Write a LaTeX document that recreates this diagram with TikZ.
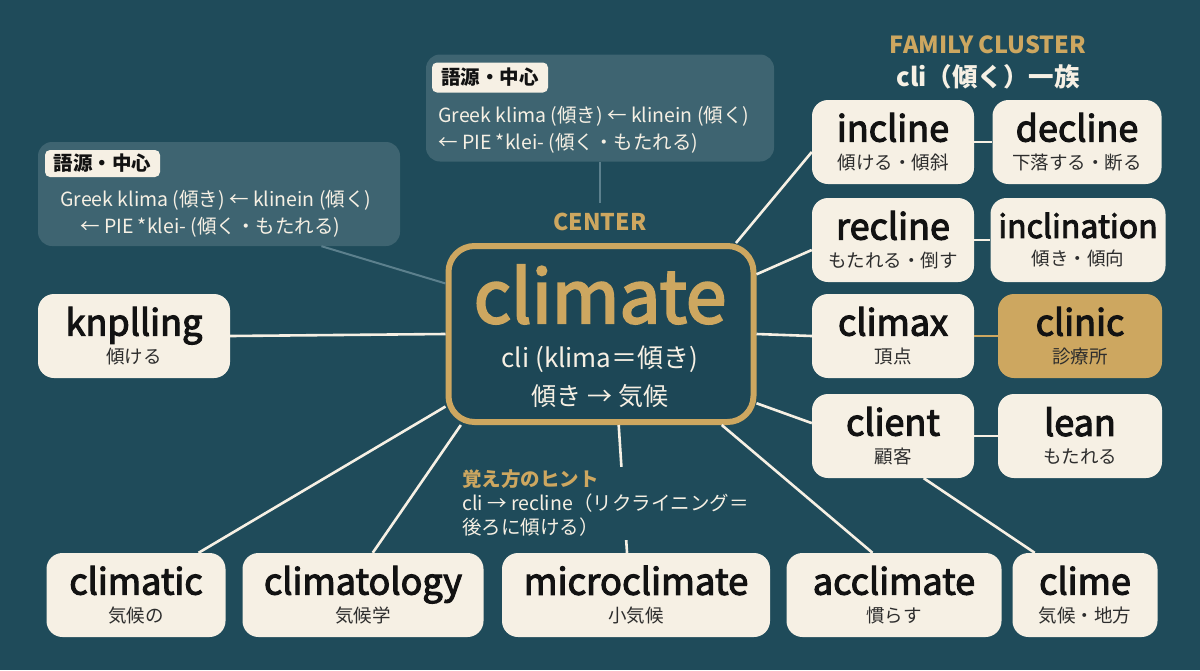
\documentclass[tikz,border=0pt]{standalone}
\usepackage{fontspec}
\setmainfont{Noto Sans CJK JP}
\newfontfamily\medfont{Noto Sans CJK JP}[FakeBold=3]
\usetikzlibrary{positioning}

\definecolor{bgteal}{RGB}{31,75,90}
\definecolor{boxteal}{RGB}{29,71,86}
\definecolor{panel}{RGB}{62,100,113}
\definecolor{faint}{RGB}{92,128,141}
\definecolor{cream}{RGB}{246,240,228}
\definecolor{gold}{RGB}{205,167,96}
\definecolor{ink}{RGB}{18,18,18}
\definecolor{subink}{RGB}{45,45,45}

\newcommand\wordlabel[3][36]{{\medfont\fontsize{#1}{36}\selectfont #2}\\{\color{subink}#3}}

\tikzset{
  wordbox/.style={fill=cream, text=ink, rounded corners=16pt, minimum height=84pt,
    inner sep=0pt, align=center, font=\fontsize{18.5}{28}\selectfont},
  goldbox/.style={wordbox, fill=gold},
  link/.style={draw=cream, line width=2.6pt},
  goldlink/.style={draw=gold, line width=2.6pt},
  faintlink/.style={draw=faint, line width=2pt},
  note/.style={fill=panel, rounded corners=14pt, inner sep=0pt},
  notetag/.style={fill=cream, text=ink, rounded corners=5pt, inner sep=0pt,
    font=\bfseries\fontsize{19.5}{22}\selectfont},
  notetext/.style={text=cream, inner sep=0pt, align=left, font=\fontsize{19.5}{27}\selectfont},
  heading/.style={text=gold, inner sep=0pt, font=\bfseries\fontsize{23}{26}\selectfont}
}

\begin{document}
\begin{tikzpicture}[x=1pt,y=-1pt]
  \useasboundingbox (0,0) rectangle (1200,670);
  \fill[bgteal] (0,0) rectangle (1200,670);

  % etymology notes
  \node[note, minimum width=362pt, minimum height=104pt] (leftnote) at (219,194) {};
  \node[notetag, minimum width=115pt, minimum height=27pt, anchor=north west] (lefttag)
    at ([shift={(7pt,-8pt)}]leftnote.north west) {語源・中心};
  \node[notetext, anchor=north west] (lefttext) at (60,190)
    {Greek klima (傾き) ← klinein (傾く)\\\hspace*{20pt}← PIE *klei- (傾く・もたれる)};
  \node[note, minimum width=348pt, minimum height=107pt] (topnote) at (600,108) {};
  \node[notetag, minimum width=116pt, minimum height=30pt, anchor=north west] (toptag)
    at ([shift={(6pt,-8pt)}]topnote.north west) {語源・中心};
  \node[notetext, anchor=north west] (toptext) at (438,106)
    {Greek klima (傾き) ← klinein (傾く)\\← PIE *klei- (傾く・もたれる)};

  % center
  \node[heading, outer sep=10pt] (centerlabel) at (600,222) {CENTER};
  \node[draw=gold, line width=6pt, fill=boxteal, rounded corners=26pt,
    minimum width=305pt, minimum height=176pt] (center) at (601,334) {};
  \node[text=gold, inner sep=0pt, anchor=base, font=\medfont\fontsize{73}{74}\selectfont]
    (centerword) at (600,323) {climate};
  \node[text=cream, inner sep=0pt, anchor=base, font=\fontsize{26}{30}\selectfont]
    (centerroot) at (600,367) {cli (klima＝傾き)};
  \node[text=cream, inner sep=0pt, anchor=base, font=\fontsize{25}{30}\selectfont]
    (centermeaning) at (600,405) {傾き → 気候};

  % family cluster
  \node[heading, font=\bfseries\fontsize{23.5}{26}\selectfont] (familylabel) at (988,45) {FAMILY CLUSTER};
  \node[text=cream, inner sep=0pt, font=\bfseries\fontsize{25.5}{30}\selectfont] (familyroot) at (988,77) {cli（傾く）一族};

  \node[wordbox, minimum width=162pt] (incline) at (893,142) {\wordlabel{incline}{傾ける・傾斜}};
  \node[wordbox, minimum width=169pt] (decline) at (1077,142) {\wordlabel{decline}{下落する・断る}};
  \node[wordbox, minimum width=162pt] (recline) at (893,240) {\wordlabel{recline}{もたれる・倒す}};
  \node[wordbox, minimum width=175pt] (inclination) at (1078,240) {\wordlabel[32]{inclination}{傾き・傾向}};
  \node[wordbox, minimum width=162pt] (climax) at (893,336) {\wordlabel{climax}{頂点}};
  \node[goldbox, minimum width=164pt] (clinic) at (1080,336) {\wordlabel{clinic}{診療所}};
  \node[wordbox, minimum width=162pt] (client) at (893,436) {\wordlabel{client}{顧客}};
  \node[wordbox, minimum width=164pt] (lean) at (1080,436) {\wordlabel{lean}{もたれる}};

  \node[wordbox, minimum width=192pt] (knplling) at (134,336) {\wordlabel{knplling}{傾ける}};

  \node[wordbox, minimum width=179pt] (climatic) at (136,595) {\wordlabel{climatic}{気候の}};
  \node[wordbox, minimum width=241pt] (climatology) at (363,595) {\wordlabel{climatology}{気候学}};
  \node[wordbox, minimum width=268pt] (microclimate) at (636,595) {\wordlabel[36.5]{microclimate}{小気候}};
  \node[wordbox, minimum width=215pt] (acclimate) at (894,595) {\wordlabel{acclimate}{慣らす}};
  \node[wordbox, minimum width=145pt] (clime) at (1085,595) {\wordlabel{clime}{気候・地方}};

  % connectors
  \draw[faintlink] (leftnote.333) -- (center.162);
  \draw[faintlink] (topnote) -- (centerlabel);
  \draw[link] (center.34) -- (incline.187);
  \draw[link] (center.21) -- (recline.187);
  \draw[link] (center.east) -- (climax.west);
  \draw[link] (center.336) -- (client.171);
  \draw[link] (center.west) -- (knplling.east);
  \draw[link] (center.205) -- (climatic.34);
  \draw[link] (center.213) -- (climatology.77);
  \draw[link] (center.281) -- (microclimate.102);
  \draw[link] (center.323) -- (acclimate.117);
  \draw[link] (client.306) -- (clime.140);
  \draw[link] (incline) -- (decline);
  \draw[link] (recline) -- (inclination);
  \draw[goldlink] (climax) -- (clinic);
  \draw[link] (client) -- (lean);

  % memory hint
  \node[fill=bgteal, text=cream, inner sep=3pt, align=left, anchor=north west,
    font=\fontsize{19.5}{24}\selectfont] (hint) at (459,467)
    {{\bfseries\color{gold}覚え方のヒント}\\cli → recline（リクライニング＝\\後ろに傾ける）};
\end{tikzpicture}
\end{document}
